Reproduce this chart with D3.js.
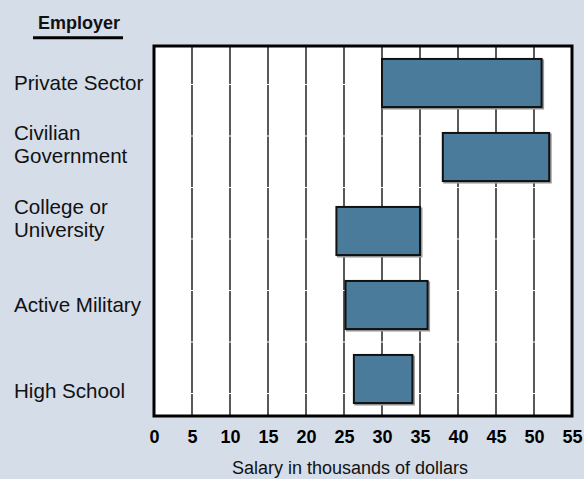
<!DOCTYPE html>
<html>
<head>
<meta charset="utf-8">
<script src="https://cdn.jsdelivr.net/npm/d3@7"></script>
<style>
  body { margin: 0; background: #d5dde9; }
  svg { display: block; font-family: Arial, "Liberation Sans", sans-serif; }
</style>
</head>
<body>
<script>
// Salary ranges by employer (thousands of dollars)
var employers = ["Private Sector", "Civilian Government", "College or University", "Active Military", "High School"];
var labelLines = [["Private Sector"], ["Civilian", "Government"], ["College or", "University"], ["Active Military"], ["High School"]];
var lowSalary = [30, 38, 24, 25.2, 26.3];
var highSalary = [51, 52, 35, 36, 34];
var xTicks = [0, 5, 10, 15, 20, 25, 30, 35, 40, 45, 50, 55];

var width = 584, height = 479;
var plot = {left: 154, right: 572, top: 46, bottom: 416};

var svg = d3.select("body").append("svg")
    .attr("width", width)
    .attr("height", height);

svg.append("rect")
    .attr("width", width).attr("height", height)
    .attr("fill", "#d5dde9");

var x = d3.scaleLinear()
    .domain([0, 55])
    .range([plot.left, plot.right]);

var y = d3.scaleBand()
    .domain(employers)
    .range([plot.top, plot.bottom])
    .paddingInner(0.35)
    .paddingOuter(0.175);

// white plot area
svg.append("rect")
    .attr("x", plot.left).attr("y", plot.top)
    .attr("width", plot.right - plot.left)
    .attr("height", plot.bottom - plot.top)
    .attr("fill", "#fff");

// vertical gridlines (the original has tiny breaks in them)
svg.append("g").selectAll("line")
    .data(xTicks.slice(1, -1))
    .enter().append("line")
    .attr("x1", function(d) { return x(d); })
    .attr("x2", function(d) { return x(d); })
    .attr("y1", plot.top)
    .attr("y2", plot.bottom)
    .attr("stroke", "#000")
    .attr("stroke-width", 1.3)
    .attr("stroke-dasharray", "50.5,1")
    .attr("stroke-dashoffset", 12.5);

// bars: a faint grey shadow then the box itself
var rows = employers.map(function(e, i) {
  return {name: e, lo: lowSalary[i], hi: highSalary[i]};
});

svg.append("g").selectAll("rect")
    .data(rows)
    .enter().append("rect")
    .attr("x", function(d) { return x(d.lo) + 1.5; })
    .attr("y", function(d) { return y(d.name) + 1.5; })
    .attr("width", function(d) { return x(d.hi) - x(d.lo); })
    .attr("height", y.bandwidth())
    .attr("fill", "none")
    .attr("stroke", "#999")
    .attr("stroke-width", 2);

svg.append("g").selectAll("rect")
    .data(rows)
    .enter().append("rect")
    .attr("x", function(d) { return x(d.lo); })
    .attr("y", function(d) { return y(d.name); })
    .attr("width", function(d) { return x(d.hi) - x(d.lo); })
    .attr("height", y.bandwidth())
    .attr("fill", "#4a7b9b")
    .attr("stroke", "#111")
    .attr("stroke-width", 2);

// frame
svg.append("rect")
    .attr("x", plot.left).attr("y", plot.top)
    .attr("width", plot.right - plot.left)
    .attr("height", plot.bottom - plot.top)
    .attr("fill", "none")
    .attr("stroke", "#000")
    .attr("stroke-width", 3);

// x axis tick labels
var xAxis = d3.axisBottom(x)
    .tickValues(xTicks)
    .tickSize(0)
    .tickPadding(14);
var axisG = svg.append("g")
    .attr("transform", "translate(0," + plot.bottom + ")")
    .call(xAxis);
axisG.select(".domain").remove();
axisG.selectAll("text")
    .attr("font-family", "Arial, 'Liberation Sans', sans-serif")
    .attr("font-size", 18)
    .attr("font-weight", "bold")
    .attr("fill", "#000");

svg.append("text")
    .attr("x", 350).attr("y", 474)
    .attr("text-anchor", "middle")
    .attr("font-size", 18)
    .attr("fill", "#111")
    .text("Salary in thousands of dollars");

// category labels, left aligned
var labelShift = {"High School": 12};
var labels = svg.append("g").selectAll("text")
    .data(employers)
    .enter().append("text")
    .attr("font-size", 20.6)
    .attr("fill", "#111")
    .attr("x", 14);
labels.each(function(d, i) {
  var lines = labelLines[i];
  var c = y(d) + y.bandwidth() / 2;
  var base = lines.length > 1 ? c - 17 : c + 7 + (labelShift[d] || 0);
  d3.select(this).selectAll("tspan")
      .data(lines)
      .enter().append("tspan")
      .attr("x", 14)
      .attr("y", function(t, j) { return base + j * 23; })
      .text(function(t) { return t; });
});

// header
svg.append("text")
    .attr("x", 79).attr("y", 29)
    .attr("text-anchor", "middle")
    .attr("font-size", 18)
    .attr("font-weight", "bold")
    .attr("fill", "#111")
    .text("Employer");
svg.append("line")
    .attr("x1", 33).attr("x2", 123)
    .attr("y1", 37.7).attr("y2", 37.7)
    .attr("stroke", "#000")
    .attr("stroke-width", 3);
</script>
</body>
</html>
